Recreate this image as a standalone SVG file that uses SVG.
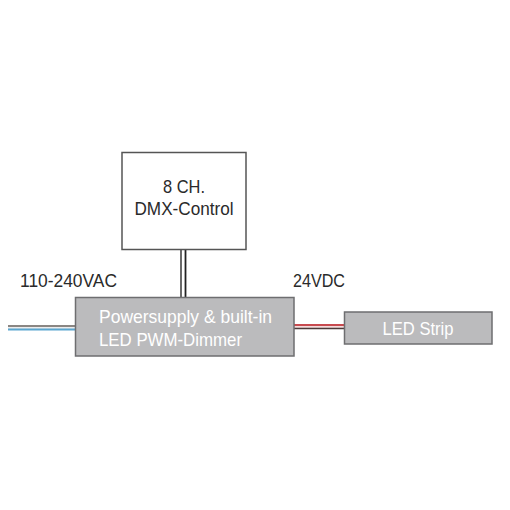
<svg xmlns="http://www.w3.org/2000/svg" width="510" height="510" viewBox="0 0 510 510">
<style>
.lbl{font-family:"Liberation Sans",Arial,sans-serif;fill:#2a2a2a;font-size:18.5px}
.wt{font-family:"Liberation Sans",Arial,sans-serif;fill:#ffffff;font-size:19px}
.gbox{fill:#bbbbbd;stroke:#6e6e70;stroke-width:1.5}
</style>
<rect width="510" height="510" fill="#ffffff"/>
<g id="connectors">
<line x1="8" y1="326" x2="75" y2="326" stroke="#8a8683" stroke-width="2"/>
<line x1="8" y1="328" x2="75" y2="328" stroke="#d8d8d8" stroke-width="1"/>
<line x1="8" y1="329.5" x2="75" y2="329.5" stroke="#5aa6cf" stroke-width="2"/>
<line x1="294" y1="325" x2="344" y2="325" stroke="#c84a4f" stroke-width="2"/>
<line x1="294" y1="327" x2="344" y2="327" stroke="#e9b6b6" stroke-width="1"/>
<line x1="294" y1="328.5" x2="344" y2="328.5" stroke="#4a3a3a" stroke-width="1.5"/>
<line x1="181" y1="250" x2="181" y2="297" stroke="#444" stroke-width="1.6"/>
<line x1="185.5" y1="250" x2="185.5" y2="297" stroke="#222" stroke-width="1.8"/>
</g>
<g id="dmx">
<rect x="122" y="152.5" width="124" height="97" fill="#ffffff" stroke="#555" stroke-width="1.5"/>
<text class="lbl" x="184" y="193" text-anchor="middle" textLength="42" lengthAdjust="spacingAndGlyphs">8 CH.</text>
<text class="lbl" x="184" y="215" text-anchor="middle" textLength="99" lengthAdjust="spacingAndGlyphs">DMX-Control</text>
</g>
<g id="power">
<rect x="75.5" y="297.5" width="218.5" height="58.5" class="gbox"/>
<text class="wt" x="99" y="323" textLength="173" lengthAdjust="spacingAndGlyphs">Powersupply &amp; built-in</text>
<text class="wt" x="99" y="346" textLength="143" lengthAdjust="spacingAndGlyphs">LED PWM-Dimmer</text>
</g>
<g id="ledstrip">
<rect x="344.5" y="312" width="147.5" height="32" class="gbox"/>
<text class="wt" x="418" y="335" text-anchor="middle" textLength="71" lengthAdjust="spacingAndGlyphs">LED Strip</text>
</g>
<g id="labels">
<text class="lbl" x="20" y="287" textLength="97" lengthAdjust="spacingAndGlyphs">110-240VAC</text>
<text class="lbl" x="293" y="287" textLength="52" lengthAdjust="spacingAndGlyphs">24VDC</text>
</g>
</svg>
